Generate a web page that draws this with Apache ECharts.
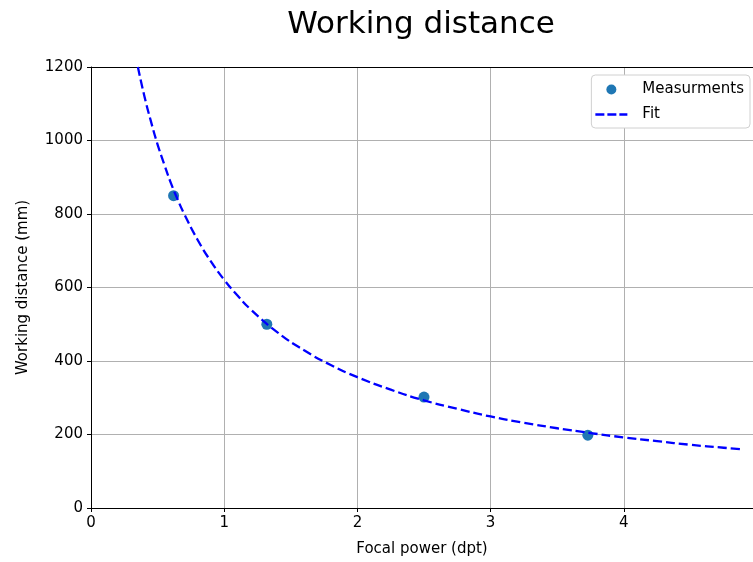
<!DOCTYPE html>
<html>
<head>
<meta charset="utf-8">
<script src="https://cdn.jsdelivr.net/npm/echarts@6/dist/echarts.min.js"></script>
<style>html,body{margin:0;padding:0;background:#fff;}#c{width:753px;height:562px;}</style>
</head>
<body>
<div id="c"></div>
<script>
var titleText = 'Working distance';
var xAxisName = 'Focal power (dpt)';
var yAxisName = 'Working distance (mm)';
var measX = [0.62, 1.32, 2.50, 3.73];
var measY = [850, 500, 302, 198];
var fitX = [0.352, 0.4, 0.45, 0.5, 0.55, 0.6, 0.65, 0.7, 0.8, 0.9, 1.0, 1.1, 1.2, 1.4, 1.6, 1.8, 2.0, 2.25, 2.5, 2.75, 3.0, 3.25, 3.5, 3.75, 4.0, 4.25, 4.5, 4.75, 4.9];
var fitY = [1200, 1122, 1052, 989, 935, 884, 840, 800, 730, 671, 621, 578, 540, 478, 429, 389, 356, 322, 293, 270, 249, 232, 217, 204, 192, 182, 172, 164, 159];
var yTicks = [0, 200, 400, 600, 800, 1000, 1200];
var xTicks = [0, 1, 2, 3, 4];

var font = 'DejaVu Sans';
var fs = 15;
var chart = echarts.init(document.getElementById('c'), null, {renderer: 'canvas'});
chart.setOption({
  animation: false,
  backgroundColor: '#fff',
  title: {
    text: titleText, left: 416, top: 4, textAlign: 'center',
    textStyle: {fontFamily: font, fontSize: 31, fontWeight: 'normal', color: '#000'}
  },
  legend: {
    orient: 'vertical', right: 3, top: 75,
    padding: [7, 6, 6, 4], itemGap: 10, itemWidth: 32, itemHeight: 15,
    borderColor: '#d0d0d0', borderWidth: 1, borderRadius: 4, backgroundColor: '#fff',
    textStyle: {fontFamily: font, fontSize: fs, color: '#000', padding: [0, 0, 0, 10]},
    data: [
      {name: 'Measurments', icon: 'path://M11,2 a5,5 0 1,0 10,0 a5,5 0 1,0 -10,0 z M0,-5.5 M32,9.5', itemStyle: {color: '#1f77b4', opacity: 1}},
      {name: 'Fit', icon: 'path://M0,-1.2 h9 v2.4 h-9z M12,-1.2 h9 v2.4 h-9z M24,-1.2 h8 v2.4 h-8z M0,-7.5 M32,7.5', itemStyle: {color: '#0000ff'}}
    ]
  },
  grid: {left: 91, top: 67, right: 0, bottom: 53, show: false},
  xAxis: [{
    type: 'value', min: 0, max: 4.97, interval: 1,
    name: xAxisName, nameLocation: 'middle', nameGap: 34,
    nameTextStyle: {fontFamily: font, fontSize: fs, color: '#000'},
    axisLine: {show: true, lineStyle: {color: '#000', width: 1}},
    axisTick: {show: true, length: 4, lineStyle: {color: '#000'}},
    axisLabel: {fontFamily: font, fontSize: fs, color: '#000', margin: 8, showMaxLabel: false,
      formatter: function (v) { return xTicks.indexOf(v) >= 0 ? String(v) : ''; }},
    splitLine: {show: true, lineStyle: {color: '#b0b0b0', width: 1}}
  }, {
    type: 'value', position: 'top', min: 0, max: 4.97,
    axisLine: {show: true, onZero: false, lineStyle: {color: '#000', width: 1}},
    axisTick: {show: false}, axisLabel: {show: false}, splitLine: {show: false}
  }],
  yAxis: {
    type: 'value', min: 0, max: 1200, interval: 200,
    name: yAxisName, nameLocation: 'middle', nameGap: 60,
    nameTextStyle: {fontFamily: font, fontSize: fs, color: '#000'},
    axisLine: {show: true, lineStyle: {color: '#000', width: 1}},
    axisTick: {show: true, length: 4, lineStyle: {color: '#000'}},
    axisLabel: {fontFamily: font, fontSize: fs, color: '#000', margin: 8,
      formatter: function (v) { return yTicks.indexOf(v) >= 0 ? String(v) : ''; }},
    splitLine: {show: true, lineStyle: {color: '#b0b0b0', width: 1}}
  },
  series: [{
    name: 'Measurments', type: 'scatter', symbol: 'circle', symbolSize: 11,
    itemStyle: {color: '#1f77b4', opacity: 1}, z: 3,
    data: measX.map(function (x, i) { return [x, measY[i]]; })
  }, {
    name: 'Fit', type: 'line', showSymbol: false, symbol: 'none', smooth: true,
    lineStyle: {color: '#0000ff', width: 2.3, type: [9, 4]},
    itemStyle: {color: '#0000ff'}, z: 4,
    data: fitX.map(function (x, i) { return [x, fitY[i]]; })
  }]
});
</script>
</body>
</html>
